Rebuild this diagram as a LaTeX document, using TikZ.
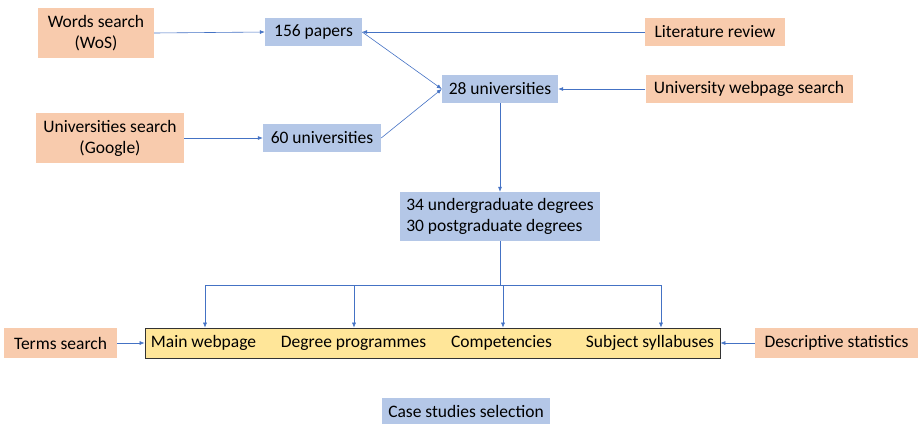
\documentclass[tikz,border=0pt]{standalone}
\usepackage{fontspec}
\setmainfont{Carlito}
\usepackage{tikz}
\usetikzlibrary{arrows.meta,positioning,calc}
\usepackage{xcolor}
\definecolor{srcorange}{HTML}{F8CBAD}
\definecolor{resblue}{HTML}{B4C7E7}
\definecolor{boxyellow}{HTML}{FFE699}
\definecolor{linkblue}{HTML}{4472C4}

\begin{document}
\begin{tikzpicture}[
    x=1pt, y=-1pt,
    font=\fontsize{17.5}{21}\selectfont,
    src/.style={
      rectangle, fill=srcorange, inner sep=0pt,
      text centered, align=center
    },
    res/.style={
      rectangle, fill=resblue, inner sep=0pt,
      text centered, align=center
    },
    item/.style={inner sep=0pt},
    link/.style={-{Latex[length=5pt,width=4pt]}, draw=linkblue, line width=0.6pt},
  ]
    \useasboundingbox (0,0) rectangle (918,424);

    % sources and intermediate results
    \node[src, minimum width=116pt, minimum height=50pt] (ws)  at (96,33)  {Words search\\(WoS)};
    \node[res, minimum width=97pt,  minimum height=28pt] (pap) at (313.5,32) {156 papers};
    \node[src, minimum width=140pt, minimum height=28pt] (lit) at (715,32) {Literature review};
    \node[res, minimum width=116pt, minimum height=28pt] (u28) at (500,89) {28 universities};
    \node[src, minimum width=207pt, minimum height=28pt] (uws) at (749,89) {University webpage search};
    \node[src, minimum width=148pt, minimum height=50pt] (us)  at (110,138) {Universities search\\(Google)};
    \node[res, minimum width=118pt, minimum height=28pt] (u60) at (322,138) {60 universities};
    \node[res, minimum width=200pt, minimum height=49pt, align=left] (deg) at (500,216.5)
      {34 undergraduate degrees\\30 postgraduate degrees};

    % analysed items
    \node[rectangle, fill=boxyellow, draw=black!80, line width=0.8pt,
          minimum width=575pt, minimum height=30pt] (yb) at (432.5,343) {};
    \node[item] (mw) at (203.5,343) {Main webpage};
    \node[item] (dp) at (353.5,343) {Degree programmes};
    \node[item] (cp) at (501.5,343) {Competencies};
    \node[item] (ss) at (650,343) {Subject syllabuses};

    \node[src, minimum width=113pt, minimum height=30pt] (ts)  at (60.5,343) {Terms search};
    \node[src, minimum width=163pt, minimum height=30pt] (dst) at (836.5,343) {Descriptive statistics};
    \node[res, minimum width=168pt, minimum height=26pt] (cs)  at (466,411) {Case studies selection};

    \foreach \a/\b in {ws/pap,us/u60,pap/u28,u60/u28,ts/yb}{
      \draw[link] (\a.east) -- (\b.west);
    }
    \foreach \a/\b in {lit/pap,uws/u28,dst/yb}{
      \draw[link] (\a.west) -- (\b.east);
    }
    \draw[link] (u28.south) -- (deg.north);

    \coordinate (split) at ($(deg.south)+(0,44)$);
    \draw[draw=linkblue, line width=0.9pt] (deg.south) -- (split);
    \draw[draw=linkblue, line width=0.9pt] (split) -- ([xshift=1.5pt]split -| mw);
    \draw[draw=linkblue, line width=0.5pt] (split) -- ([xshift=11pt]split -| ss);
    \foreach \c/\dx in {mw/1.5,dp/0.5,cp/1.5,ss/11}{
      \draw[link, line width=0.5pt] ([xshift=\dx pt]split -| \c) -- ([xshift=\dx pt]\c |- yb.north);
    }
  \end{tikzpicture}
\end{document}
